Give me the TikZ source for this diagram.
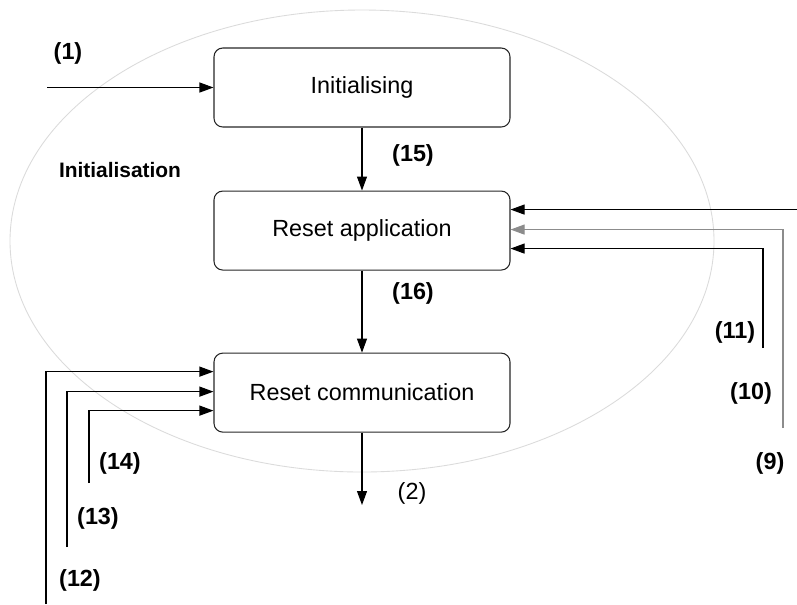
\documentclass[tikz,border=0pt]{standalone}
\usepackage{fontspec}
\setmainfont{Liberation Sans}
\usetikzlibrary{arrows.meta,positioning,calc}

\begin{document}
\begin{tikzpicture}[
  state/.style={rectangle, draw=black!85, line width=0.6pt, rounded corners=5pt,
                minimum width=5.92cm, minimum height=1.58cm,
                align=center, font=\fontsize{13.3}{16}\selectfont},
  flow/.style={-{Triangle[length=2.8mm,width=2mm]}, line width=0.6pt, black},
  faint/.style={flow, black!45},
  lbl/.style={font=\fontsize{13.3}{16}\selectfont\bfseries, inner sep=1pt},
  plain/.style={font=\fontsize{13.3}{16}\selectfont, inner sep=1pt}
]
\useasboundingbox (0,0) rectangle (15.94,-12.08);

% region
\draw[black!14, line width=0.5pt] (7.24,-4.82) ellipse [x radius=7.04cm, y radius=4.62cm];
\node[font=\fontsize{11.9}{14}\selectfont\bfseries] (region) at (2.4,-3.4) {Initialisation};

% states
\node[state] (init)                        at (7.24,-1.75) {Initialising};
\node[state, below=1.26cm of init]   (resapp) {Reset application};
\node[state, below=1.64cm of resapp] (rescom) {Reset communication};

% entry points on the boxes
\coordinate (a9)  at ([yshift=0.42cm]resapp.east);
\coordinate (a10) at ([yshift=0.02cm]resapp.east);
\coordinate (a11) at ([yshift=-0.36cm]resapp.east);
\coordinate (a12) at ([yshift=0.42cm]rescom.west);
\coordinate (a13) at ([yshift=0.02cm]rescom.west);
\coordinate (a14) at ([yshift=-0.36cm]rescom.west);

% free ends
\coordinate (in1)  at (0.94,-1.75);
\coordinate (out2) at (7.24,-10.1);
\coordinate (in9)  at (15.94,-4.14);
\coordinate (in10) at (15.66,-8.56);
\coordinate (in11) at (15.26,-6.96);
\coordinate (in12) at (0.92,-12.08);
\coordinate (in13) at (1.34,-10.94);
\coordinate (in14) at (1.78,-9.66);

\draw[flow] (in1) -- (init.west);
\draw[flow] (init) -- (resapp);
\draw[flow] (resapp) -- (rescom);
\draw[flow] (rescom) -- (out2);

\draw[flow]  (a9 -| in9) -- (a9);
\draw[faint] (in10) |- (a10);
\draw[flow]  (in11) |- (a11);

\draw[flow] (in12) |- (a12);
\draw[flow] (in13) |- (a13);
\draw[flow] (in14) |- (a14);

% labels
\node[lbl]   (l1)  at (1.36,-1.06) {(1)};
\node[lbl]   (l15) at (8.26,-3.1)  {(15)};
\node[lbl]   (l16) at (8.26,-5.86) {(16)};
\node[plain] (l2)  at (8.24,-9.86) {(2)};
\node[lbl]   (l11) at (14.7,-6.64) {(11)};
\node[lbl]   (l10) at (15.02,-7.86) {(10)};
\node[lbl]   (l9)  at (15.4,-9.26) {(9)};
\node[lbl]   (l14) at (2.4,-9.26)  {(14)};
\node[lbl]   (l13) at (1.96,-10.36) {(13)};
\node[lbl]   (l12) at (1.6,-11.6)  {(12)};
\end{tikzpicture}
\end{document}
